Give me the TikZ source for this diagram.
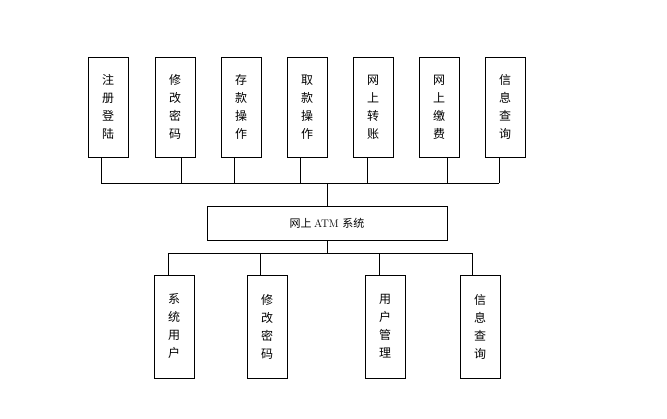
\documentclass[tikz,border=0pt]{standalone}
\usepackage{fontspec}
\newfontfamily\cjk{Noto Sans CJK SC}
\begin{document}
\begin{tikzpicture}[x=1pt,y=-1pt,
  vbox/.style={draw,line width=0.6pt,minimum width=40pt,minimum height=100pt,inner sep=0pt,align=center,font=\cjk\fontsize{12}{18}\selectfont},
  ln/.style={line width=0.6pt}]
\useasboundingbox (0,0) rectangle (667,418);
\foreach \n/\x/\t in {a/108/注\\册\\登\\陆, b/175/修\\改\\密\\码, c/241/存\\款\\操\\作, d/307/取\\款\\操\\作, e/373/网\\上\\转\\账, f/439/网\\上\\缴\\费, g/505/信\\息\\查\\询}
  \node[vbox] (\n) at (\x,107) {\t};
\node[draw,line width=0.6pt,minimum width=240pt,minimum height=34pt,inner sep=0pt,font=\cjk\fontsize{11}{13}\selectfont] (m) at (327,223) {网上 \rmfamily ATM \cjk 系统};
\foreach \n/\x/\t in {p/174/系\\统\\用\\户, q/267/修\\改\\密\\码, r/385/用\\户\\管\\理, s/480/信\\息\\查\\询}
  \node[vbox,minimum height=103pt] (\n) at (\x,326.5) {\t};
\coordinate (tl) at (101,183);
\coordinate (tr) at (499,183);
\draw[ln] (tl) -- (tr);
\foreach \n/\x in {a/101,b/181,c/234,d/300,e/367,f/447,g/499} \draw[ln] (\x,0 |- \n.south) -- (\x,183);
\draw[ln] (m.north) -- (m.north |- tl);
\coordinate (bl) at (168,253);
\coordinate (br) at (472,253);
\draw[ln] (bl) -- (br);
\draw[ln] (m.south) -- (m.south |- bl);
\foreach \n/\x in {p/168,q/260,r/379,s/472} \draw[ln] (\x,0 |- \n.north) -- (\x,253);
\end{tikzpicture}
\end{document}
